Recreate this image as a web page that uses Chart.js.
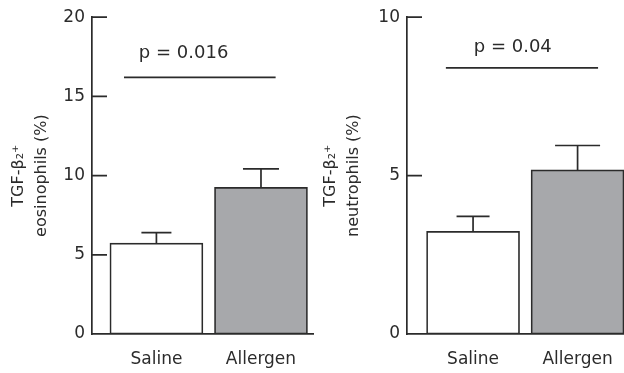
<!DOCTYPE html>
<html>
<head>
<meta charset="utf-8">
<script src="https://cdn.jsdelivr.net/npm/chart.js@4.4.0/dist/chart.umd.min.js"></script>
<style>
  body { margin: 0; width: 624px; height: 373px; overflow: hidden; background: #fff; position: relative; }
  canvas { position: absolute; top: 0; }
</style>
</head>
<body>
<canvas id="eos" width="314" height="373" style="left:0"></canvas>
<canvas id="neu" width="340" height="373" style="left:312px"></canvas>
<script>
// values
const categories = ["Saline", "Allergen"];
const eosMean = [5.74, 9.26];
const eosErr = [0.66, 1.16];
const neuMean = [3.24, 5.18];
const neuErr = [0.47, 0.77];
const eosTicks = [0, 5, 10, 15, 20];
const neuTicks = [0, 5, 10];
const pLabels = ["p = 0.016", "p = 0.04"];

const ink = "#2b2b2b";
const family = "'DejaVu Sans', sans-serif";

// error bars, inward y ticks and the significance bar
const extras = {
  id: "extras",
  afterDatasetsDraw(chart, args, opts) {
    const ctx = chart.ctx;
    const xs = chart.scales.x, ys = chart.scales.y;
    const left = chart.chartArea.left;
    ctx.save();
    ctx.strokeStyle = ink;
    ctx.lineWidth = 1.7;
    ctx.beginPath();
    chart.getDatasetMeta(0).data.forEach((bar, i) => {
      const top = ys.getPixelForValue(opts.mean[i] + opts.err[i]);
      const half = opts.caps[i] / 2;
      ctx.moveTo(bar.x, bar.y);
      ctx.lineTo(bar.x, top);
      ctx.moveTo(bar.x - half, top);
      ctx.lineTo(bar.x + half, top);
    });
    ys.ticks.forEach(t => {
      if (t.value === 0) return;
      const py = ys.getPixelForValue(t.value);
      ctx.moveTo(left, py);
      ctx.lineTo(left + 15, py);
    });
    const ly = ys.getPixelForValue(opts.barY);
    ctx.moveTo(xs.getPixelForValue(opts.barFrom), ly);
    ctx.lineTo(xs.getPixelForValue(opts.barTo), ly);
    ctx.stroke();
    ctx.fillStyle = ink;
    ctx.font = "18px " + family;
    ctx.textAlign = "center";
    ctx.textBaseline = "middle";
    ctx.fillText(opts.label, xs.getPixelForValue(opts.textX), ys.getPixelForValue(opts.textY));
    ctx.restore();
  }
};

function makeChart(id, mean, err, yTicks, yMax, titleLines, xMin, xMax, axisLeft, extra) {
  return new Chart(document.getElementById(id), {
    type: "bar",
    data: {
      datasets: [{
        data: categories.map((c, i) => ({ x: i + 1, y: mean[i] })),
        backgroundColor: ["#ffffff", "#a7a8ab"],
        borderColor: ink,
        borderWidth: 1.7,
        borderSkipped: false,
        barThickness: 93,
      }],
    },
    options: {
      responsive: false,
      animation: false,
      devicePixelRatio: 1,
      layout: { padding: { top: 17, left: 0, right: 0, bottom: 0 } },
      plugins: {
        legend: { display: false },
        tooltip: { enabled: false },
        extras: Object.assign({ mean: mean, err: err }, extra),
      },
      scales: {
        x: {
          type: "linear",
          offset: false,
          min: xMin,
          max: xMax,
          afterBuildTicks: s => { s.ticks = categories.map((c, i) => ({ value: i + 1 })); },
          afterFit: s => { s.height = 39; },
          grid: { display: false, drawTicks: false, offset: false },
          border: { color: ink, width: 1.7 },
          ticks: {
            color: ink,
            padding: 15,
            font: { family: family, size: 17 },
            callback: (v, i) => categories[i],
          },
        },
        y: {
          min: 0,
          max: yMax,
          afterBuildTicks: s => { s.ticks = yTicks.map(v => ({ value: v })); },
          afterFit: s => { s.width = axisLeft; },
          grid: { display: false, drawTicks: false },
          border: { color: ink, width: 1.7 },
          ticks: { color: ink, padding: 7, font: { family: family, size: 17 } },
          title: {
            display: true,
            text: titleLines,
            color: ink,
            font: { family: family, size: 16, lineHeight: 1.4 },
            padding: { top: 8, bottom: 0 },
          },
        },
      },
    },
    plugins: [extras],
  });
}

makeChart("eos", eosMean, eosErr, eosTicks, 20, ["TGF-β₂⁺", "eosinophils (%)"], 0.384, 2.507, 92,
  { caps: [30, 36], barY: 16.2, barFrom: 0.69, barTo: 2.14, label: pLabels[0], textX: 1.26, textY: 17.7 });
makeChart("neu", neuMean, neuErr, neuTicks, 10, ["TGF-β₂⁺", "neutrophils (%)"], 0.368, 2.712, 95,
  { caps: [33, 45], barY: 8.4, barFrom: 0.74, barTo: 2.196, label: pLabels[1], textX: 1.38, textY: 9.05 });
</script>
</body>
</html>
